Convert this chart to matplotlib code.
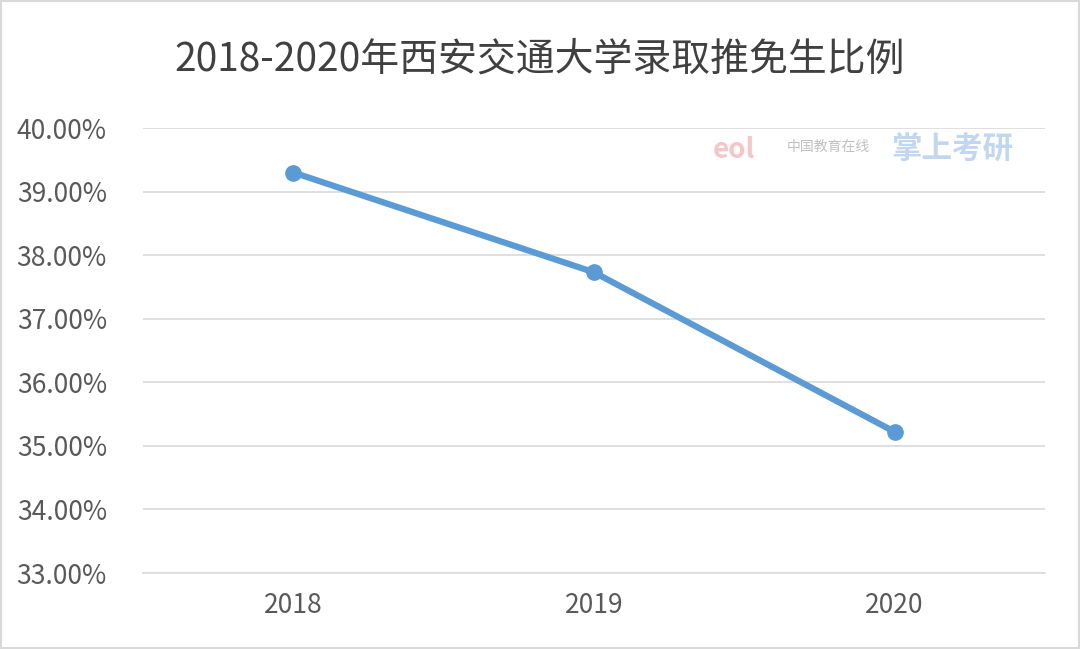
import matplotlib
matplotlib.use("Agg")
import matplotlib.pyplot as plt
from matplotlib.ticker import FuncFormatter

plt.rcParams['font.family'] = ['Noto Sans CJK SC', 'DejaVu Sans']

years = ["2018", "2019", "2020"]
ratios = [39.30, 37.73, 35.22]
title = "2018-2020年西安交通大学录取推免生比例"

fig = plt.figure(figsize=(10.8, 6.49), dpi=100)
ax = fig.add_axes([143/1080, 1-573/649, (1045-143)/1080, (573-128)/649])
x = range(len(years))
ax.plot(x, ratios, color="#5B9BD5", lw=4.5, marker="o", ms=11, solid_capstyle="round", zorder=3)
ax.set_xlim(-0.5, 2.5)
ax.set_ylim(33, 40)
ax.set_yticks(range(33, 41))
ax.yaxis.set_major_formatter(FuncFormatter(lambda v, p: f"{v:.2f}%"))
ax.set_xticks(list(x))
ax.set_xticklabels(years)
ax.grid(axis="y", color="#D9D9D9", lw=1.2)
ax.set_axisbelow(True)
for s in ["top", "right", "left"]:
    ax.spines[s].set_visible(False)
ax.spines["bottom"].set_color("#D9D9D9")
ax.spines["bottom"].set_linewidth(1.2)
ax.tick_params(length=0, labelsize=19, colors="#595959", pad=26)
ax.tick_params(axis="x", pad=14)
fig.text(540/1080, 1-60/649, title, ha="center", va="center", fontsize=28, color="#404040")
fig.text(0.66, 1-150/649, "eol", fontsize=20, color="#F2B8B8", alpha=0.8, va="center", style="italic", weight="bold")
fig.text(0.728, 1-147/649, "中国教育在线", fontsize=10, color="#C0C0C0", va="center")
fig.text(0.825, 1-150/649, "掌上考研", fontsize=22, color="#B9D3EE", alpha=0.9, va="center", weight="bold")
fig.patches.append(plt.Rectangle((0.001, 0.001), 0.998, 0.998, transform=fig.transFigure,
                                 fill=False, edgecolor="#D9D9D9", lw=1.5))
fig.savefig("out.png", dpi=100)
